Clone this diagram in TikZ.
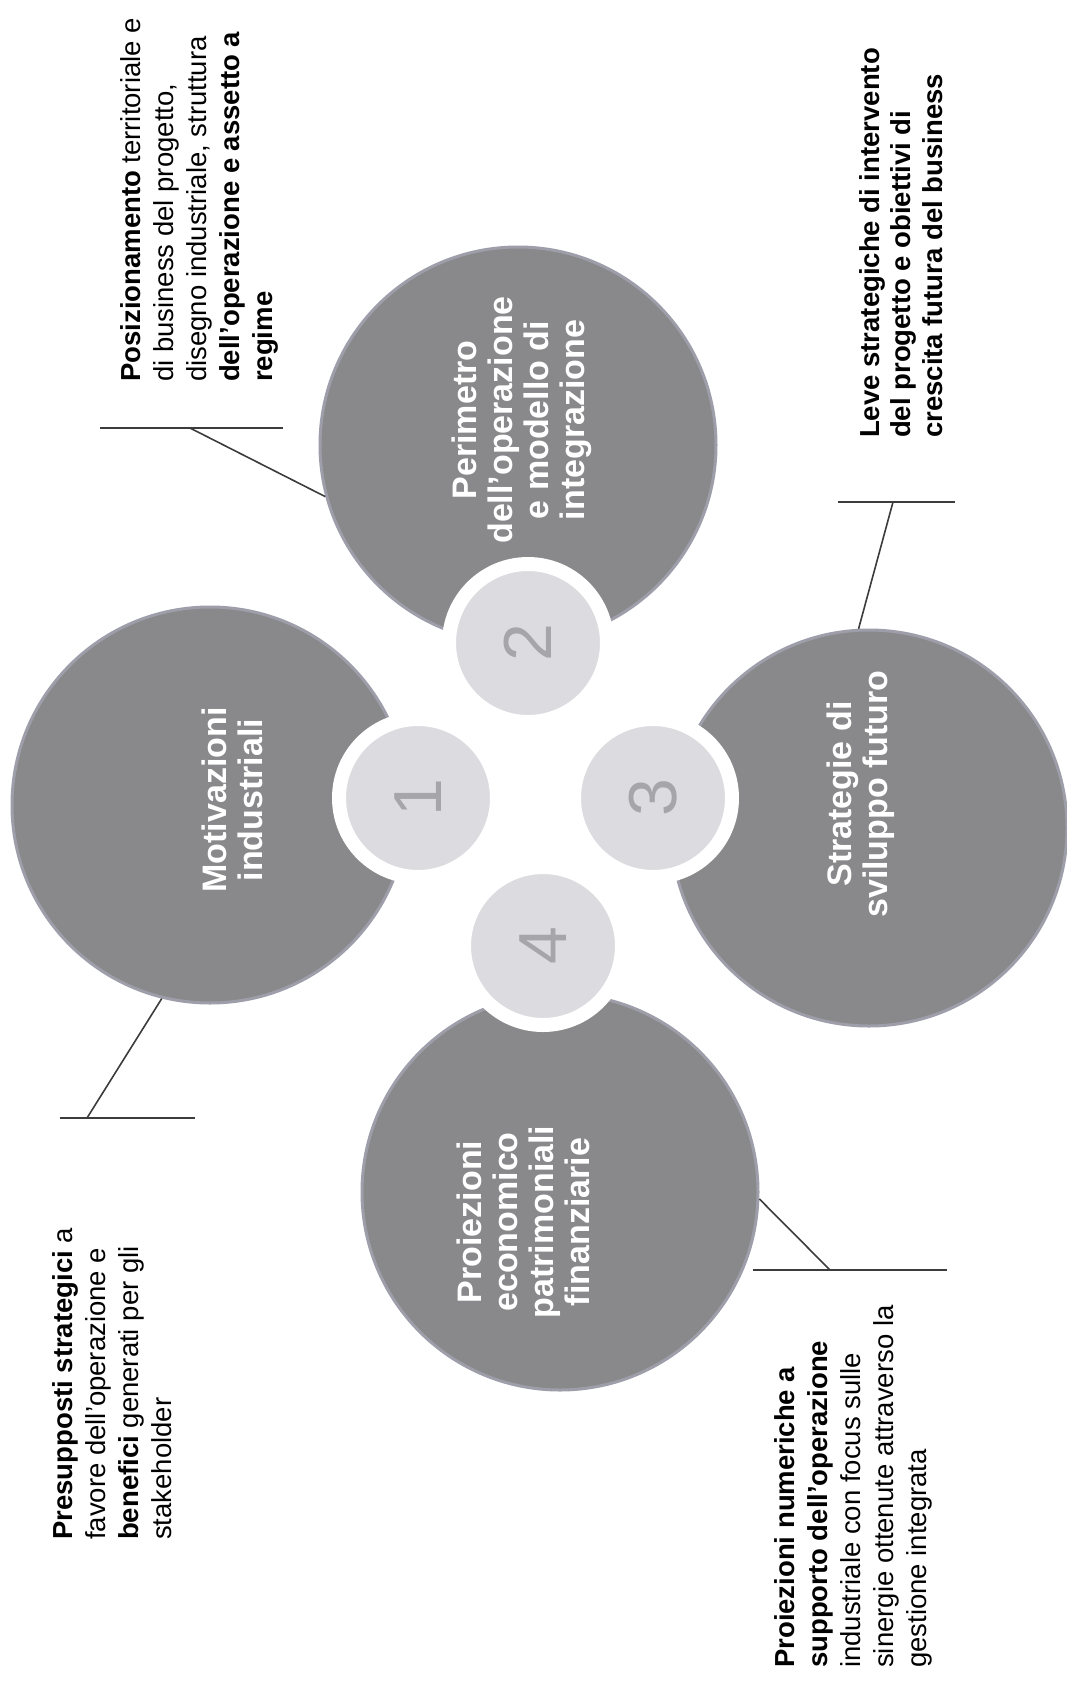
\documentclass[tikz,border=0pt]{standalone}
\usepackage{fontspec}
\setmainfont{Liberation Sans}
\definecolor{bigfill}{RGB}{137,137,139}
\definecolor{bigedge}{RGB}{158,158,170}
\definecolor{smallfill}{RGB}{220,220,224}
\definecolor{digitcol}{RGB}{165,165,170}
\definecolor{linecol}{RGB}{60,60,60}
\begin{document}
\begin{tikzpicture}[x=1pt,y=-1pt,
  bigc/.style={circle, fill=bigfill, draw=bigedge, line width=3pt, minimum size=396pt, inner sep=0pt},
  smallc/.style={circle, fill=smallfill, draw=white, line width=14pt, minimum size=158pt, inner sep=0pt,
    text=digitcol, font=\fontsize{68}{72}\selectfont, rotate=90},
  ctext/.style={rotate=90, align=center, text=white, inner sep=0pt, font=\fontsize{34}{36}\selectfont\bfseries},
  desc/.style={rotate=90, align=left, anchor=north west, inner sep=0pt, text=black, font=\fontsize{27.5}{33}\selectfont},
  conn/.style={draw=linecol, line width=1.6pt}]
\useasboundingbox[fill=white] (0,0) rectangle (1066,1681);
% big circles
\node[bigc] (M) at (210,805) {};
\node[bigc] (P) at (518,445) {};
\node[bigc] (S) at (869,828) {};
\node[bigc] (R) at (560,1192) {};
% small numbered circles
\node[smallc] (n1) at (418,798) {1};
\node[smallc] (n2) at (528,643) {2};
\node[smallc] (n3) at (653,798) {3};
\node[smallc] (n4) at (543,946) {4};
% texts in big circles
\node[ctext] (Mt) at (232,800) {Motivazioni\\industriali};
\node[ctext] (Pt) at (522,420) {Perimetro\\dell’operazione\\e modello di\\integrazione};
\node[ctext] (St) at (861,794) {Strategie di\\sviluppo futuro};
\node[ctext] (Rt) at (523,1222) {Proiezioni\\economico\\patrimoniali\\finanziarie};
% descriptions
\node[desc] (dP) at (120,382) {\textbf{Posizionamento} territoriale e\\di business del progetto,\\disegno industriale, struttura\\\textbf{dell’operazione e assetto a}\\\textbf{regime}};
\node[desc, font=\fontsize{27.5}{31.5}\selectfont] (dS) at (859,438) {\textbf{Leve strategiche di intervento}\\\textbf{del progetto e obiettivi di}\\\textbf{crescita futura del business}};
\node[desc] (dM) at (52,1540) {\textbf{Presupposti strategici} a\\favore dell’operazione e\\\textbf{benefici} generati per gli\\stakeholder};
\node[desc] (dR) at (774,1668) {\textbf{Proiezioni numeriche a}\\\textbf{supporto dell’operazione}\\industriale con focus sulle\\sinergie ottenute attraverso la\\gestione integrata};
% connectors
\coordinate (pA) at (100,428); \coordinate (pB) at (283,428); \coordinate (pK) at (190,428);
\draw[conn] (pA) -- (pB); \draw[conn] (pK) -- (P.195);
\coordinate (sA) at (838,502); \coordinate (sB) at (955,502); \coordinate (sK) at (893,502);
\draw[conn] (sA) -- (sB); \draw[conn] (sK) -- (S.93);
\coordinate (mA) at (60,1118); \coordinate (mB) at (195,1118); \coordinate (mK) at (87,1118);
\draw[conn] (mA) -- (mB); \draw[conn] (mK) -- (M.256);
\coordinate (rA) at (753,1270); \coordinate (rB) at (947,1270); \coordinate (rK) at (830,1270);
\draw[conn] (rA) -- (rB); \draw[conn] (rK) -- (R.-2);
\end{tikzpicture}
\end{document}
